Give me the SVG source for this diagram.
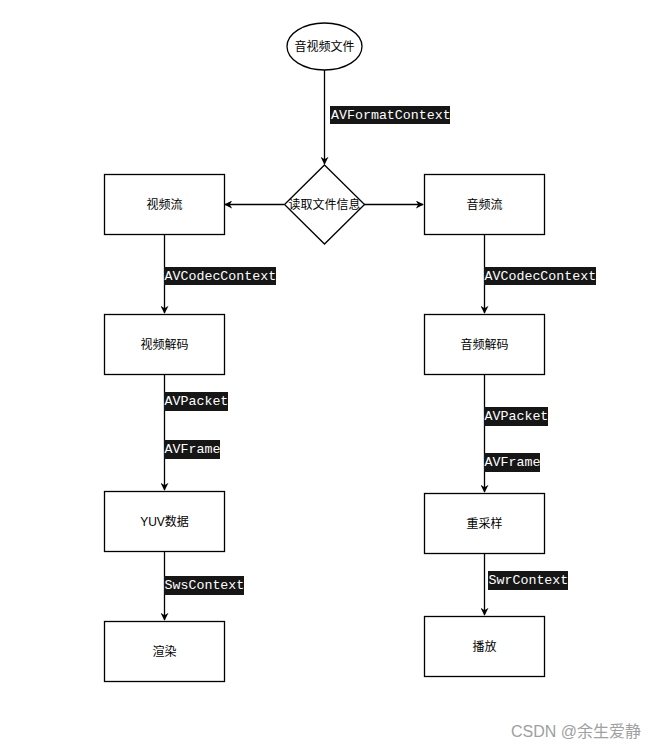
<svg xmlns="http://www.w3.org/2000/svg" width="662" height="749" viewBox="0 0 662 749">
<style>
.n{fill:#fff;stroke:#000;stroke-width:1.3}
.t{font-family:"Liberation Sans","Noto Sans CJK SC",sans-serif;font-size:12px;fill:#000;text-anchor:middle;dominant-baseline:central}
.e{stroke:#000;stroke-width:1.3;fill:none}
.lb{fill:#161616}
.lt{font-family:"Liberation Mono","Noto Sans CJK SC",monospace;font-size:13.3px;fill:#fff;dominant-baseline:central}
.wm{font-family:"Liberation Sans","Noto Sans CJK SC",sans-serif;font-size:16px;fill:#a0a0a0}
</style>
<defs>
<marker id="a" viewBox="0 0 10 10" refX="9" refY="5" markerWidth="8" markerHeight="8" markerUnits="userSpaceOnUse" orient="auto">
<path d="M0,0 L10,5 L0,10 L3,5 Z" fill="#000"/>
</marker>
</defs>
<rect width="662" height="749" fill="#fff"/>
<g id="edges">
<path class="e" d="M324.5,70 V164" marker-end="url(#a)"/>
<path class="e" d="M284,204.5 H225" marker-end="url(#a)"/>
<path class="e" d="M364,204.5 H423" marker-end="url(#a)"/>
<path class="e" d="M164.5,234 V313" marker-end="url(#a)"/>
<path class="e" d="M484.5,234 V313" marker-end="url(#a)"/>
<path class="e" d="M164.5,374 V490" marker-end="url(#a)"/>
<path class="e" d="M484.5,374 V492" marker-end="url(#a)"/>
<path class="e" d="M164.5,551 V620" marker-end="url(#a)"/>
<path class="e" d="M484.5,553 V615" marker-end="url(#a)"/>
<rect class="lb" x="330" y="106" width="120" height="18"/>
<text class="lt" x="331" y="115">AVFormatContext</text>
<rect class="lb" x="164" y="267" width="112" height="18"/>
<text class="lt" x="164.5" y="276">AVCodecContext</text>
<rect class="lb" x="484" y="267" width="112" height="18"/>
<text class="lt" x="484.5" y="276">AVCodecContext</text>
<rect class="lb" x="164" y="392" width="64" height="19"/>
<text class="lt" x="164.5" y="401.5">AVPacket</text>
<rect class="lb" x="164" y="440" width="56" height="19"/>
<text class="lt" x="164.5" y="449.5">AVFrame</text>
<rect class="lb" x="484" y="407" width="64" height="19"/>
<text class="lt" x="484.5" y="416.5">AVPacket</text>
<rect class="lb" x="484" y="453" width="56" height="19"/>
<text class="lt" x="484.5" y="462.5">AVFrame</text>
<rect class="lb" x="164" y="576" width="80" height="19"/>
<text class="lt" x="164.5" y="585.5">SwsContext</text>
<rect class="lb" x="488" y="571" width="80" height="19"/>
<text class="lt" x="488.5" y="580.5">SwrContext</text>
</g>
<g id="start"><ellipse class="n" cx="324.5" cy="46.5" rx="37.5" ry="23.5"/><text class="t" x="324.5" y="46.5">音视频文件</text></g>
<g id="read"><path class="n" d="M324.5,165 L364.5,204.5 L324.5,244 L284.5,204.5 Z"/><text class="t" x="324.5" y="204.5">读取文件信息</text></g>
<g id="vstream"><rect class="n" x="104.5" y="174.5" width="120" height="60"/><text class="t" x="164.5" y="204.5">视频流</text></g>
<g id="astream"><rect class="n" x="424.5" y="174.5" width="120" height="60"/><text class="t" x="484.5" y="204.5">音频流</text></g>
<g id="vdecode"><rect class="n" x="104.5" y="314.5" width="120" height="60"/><text class="t" x="164.5" y="344.5">视频解码</text></g>
<g id="adecode"><rect class="n" x="424.5" y="314.5" width="120" height="60"/><text class="t" x="484.5" y="344.5">音频解码</text></g>
<g id="yuv"><rect class="n" x="104.5" y="491.5" width="120" height="60"/><text class="t" x="164.5" y="521.5">YUV数据</text></g>
<g id="resample"><rect class="n" x="424.5" y="493.5" width="120" height="60"/><text class="t" x="484.5" y="523.5">重采样</text></g>
<g id="render"><rect class="n" x="104.5" y="621.5" width="120" height="60"/><text class="t" x="164.5" y="651.5">渲染</text></g>
<g id="play"><rect class="n" x="424.5" y="616.5" width="120" height="60"/><text class="t" x="484.5" y="646.5">播放</text></g>
<text class="wm" x="511" y="737">CSDN @余生爱静</text>
</svg>
